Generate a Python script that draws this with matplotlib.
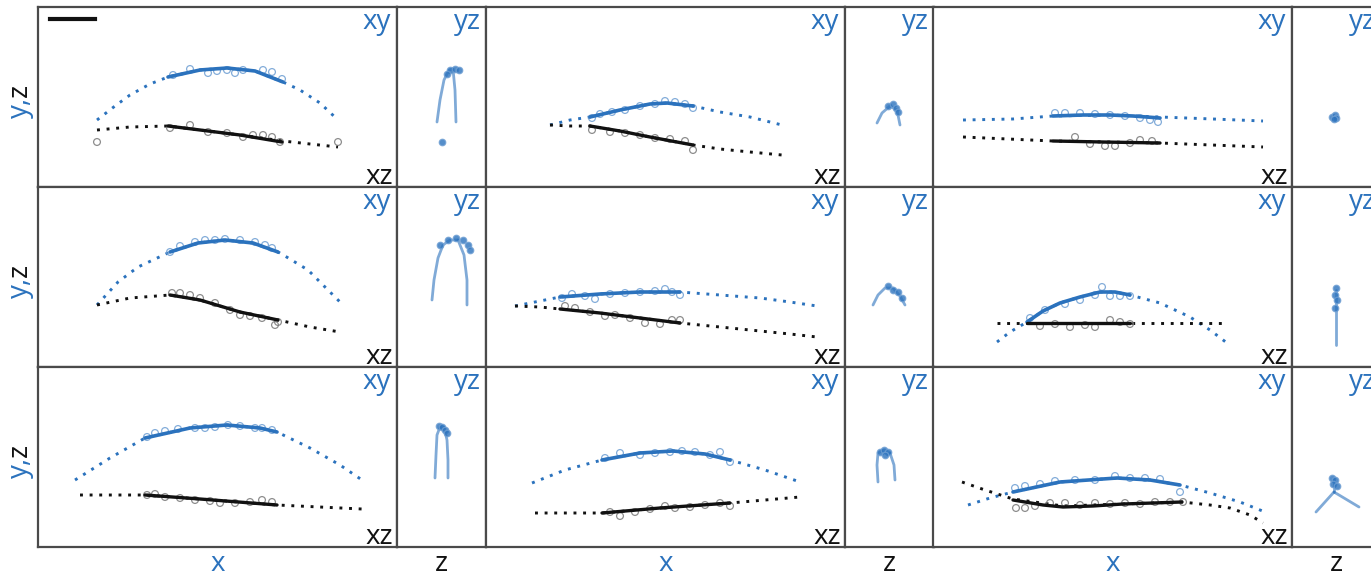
import matplotlib.pyplot as plt

# canvas in pixels
W, H = 1371, 575
BLUE = '#2b72bd'
BLUE_LIGHT = '#6f9fd3'
BLACK = '#111111'
GREY = '#7a7a7a'

# panels A..I, read row by row; values in panel pixel units (x right, y up)
xy_fit = [
    [(59, 67), (77, 81), (92, 92), (112, 103), (130, 110), (162, 117), (189, 119), (217, 116), (245, 105), (262, 97), (282, 84), (300, 67)],
    [(64, 62), (84, 67), (104, 70), (134, 77), (164, 83), (181, 84), (207, 81), (234, 75), (264, 70), (296, 62)],
    [(30, 67), (80, 68), (120, 71), (177, 72), (227, 70), (280, 68), (330, 66)],
    [(59, 62), (80, 85), (100, 100), (132, 115), (160, 124), (187, 127), (215, 124), (242, 114), (270, 97), (302, 65)],
    [(29, 61), (54, 66), (74, 70), (114, 73), (154, 75), (194, 75), (234, 72), (274, 69), (304, 65), (331, 61)],
    [(64, 25), (77, 35), (94, 45), (110, 56), (127, 64), (147, 70), (167, 75), (182, 75), (197, 72), (227, 64), (257, 50), (277, 37), (294, 24)],
    [(37, 67), (72, 89), (107, 109), (152, 119), (189, 122), (222, 119), (239, 115), (272, 99), (302, 82), (324, 67)],
    [(46, 64), (79, 77), (116, 87), (154, 94), (187, 96), (219, 93), (244, 87), (279, 77), (314, 65)],
    [(35, 42), (57, 49), (80, 55), (127, 65), (184, 69), (217, 67), (247, 62), (277, 54), (307, 45), (332, 35)],
]
xy_seg = [
    [(130, 110), (162, 117), (189, 119), (217, 116), (245, 105)],
    [(104, 70), (134, 77), (164, 83), (181, 84), (207, 81)],
    [(120, 71), (150, 72), (177, 72), (200, 71), (227, 69)],
    [(132, 115), (160, 124), (187, 127), (215, 124), (240, 115)],
    [(74, 70), (114, 73), (154, 75), (194, 75)],
    [(94, 45), (110, 56), (127, 64), (147, 70), (167, 75), (182, 75), (197, 72)],
    [(107, 109), (152, 119), (189, 122), (222, 119), (239, 115)],
    [(116, 87), (154, 94), (187, 96), (219, 93), (244, 87)],
    [(80, 55), (127, 65), (184, 69), (217, 67), (247, 62)],
]
xy_obs = [
    [(135, 112), (152, 118), (170, 114), (179, 116), (189, 117), (197, 114), (205, 117), (225, 117), (234, 115), (244, 108)],
    [(106, 69), (114, 73), (126, 75), (139, 77), (154, 81), (169, 83), (179, 86), (189, 85), (199, 83), (207, 79)],
    [(122, 74), (132, 74), (147, 74), (162, 73), (177, 72), (192, 71), (207, 69), (217, 67), (225, 65)],
    [(132, 115), (142, 121), (157, 125), (167, 127), (177, 127), (187, 128), (202, 127), (217, 125), (227, 122), (234, 119)],
    [(76, 69), (86, 73), (99, 71), (109, 68), (124, 73), (139, 74), (154, 75), (169, 76), (179, 78), (186, 75), (194, 72)],
    [(97, 49), (112, 57), (132, 63), (147, 67), (162, 72), (169, 80), (177, 71), (187, 71), (197, 71)],
    [(109, 110), (117, 114), (127, 116), (140, 118), (157, 119), (167, 119), (177, 120), (190, 122), (202, 121), (217, 119), (224, 119), (234, 117)],
    [(119, 89), (134, 94), (154, 92), (169, 94), (184, 95), (196, 96), (209, 95), (224, 92), (234, 95), (244, 85)],
    [(82, 59), (92, 61), (107, 63), (122, 66), (142, 67), (162, 67), (182, 71), (197, 69), (212, 69), (227, 68), (247, 55)],
]
xz_fit = [
    [(59, 57), (92, 60), (130, 61), (162, 57), (202, 52), (245, 46), (272, 43), (300, 40)],
    [(64, 62), (84, 61), (104, 61), (134, 56), (164, 50), (207, 42), (234, 38), (264, 35), (296, 32)],
    [(30, 50), (120, 46), (227, 44), (330, 40)],
    [(59, 62), (92, 69), (132, 72), (162, 67), (202, 55), (240, 47), (272, 40), (302, 35)],
    [(29, 61), (54, 60), (74, 58), (114, 54), (154, 49), (194, 44), (234, 40), (274, 36), (304, 33), (331, 30)],
    [(64, 44), (130, 44), (200, 44), (294, 44)],
    [(42, 52), (107, 52), (162, 48), (239, 42), (324, 38)],
    [(49, 34), (116, 34), (174, 39), (244, 44), (314, 50)],
    [(29, 65), (52, 57), (80, 48), (130, 41), (190, 43), (249, 45), (277, 42), (297, 39), (317, 32), (330, 24)],
]
xz_seg = [
    [(130, 61), (162, 57), (202, 52), (244, 45)],
    [(104, 61), (134, 56), (164, 50), (207, 42)],
    [(120, 46), (170, 45), (227, 44)],
    [(132, 72), (162, 67), (202, 55), (240, 47)],
    [(74, 58), (114, 54), (154, 49), (194, 44)],
    [(94, 44), (197, 44)],
    [(107, 52), (162, 48), (239, 42)],
    [(116, 34), (174, 39), (244, 44)],
    [(80, 47), (110, 42), (130, 40), (160, 41), (190, 43), (220, 44), (249, 45)],
]
xz_obs = [
    [(59, 45), (132, 59), (152, 62), (170, 55), (189, 54), (205, 50), (215, 52), (225, 52), (234, 50), (242, 45), (300, 45)],
    [(106, 57), (124, 55), (139, 54), (154, 52), (169, 49), (184, 48), (199, 46), (207, 37)],
    [(142, 50), (157, 43), (172, 41), (182, 41), (197, 44), (207, 47), (219, 46)],
    [(134, 74), (142, 74), (152, 72), (162, 69), (177, 64), (192, 57), (202, 52), (212, 51), (224, 49), (237, 42), (240, 45)],
    [(79, 61), (89, 59), (104, 55), (119, 51), (129, 52), (144, 49), (159, 44), (174, 43), (186, 47), (194, 47)],
    [(107, 41), (122, 43), (137, 40), (152, 42), (162, 40), (177, 47), (187, 45), (197, 43)],
    [(109, 52), (117, 53), (127, 50), (142, 49), (157, 47), (172, 46), (182, 44), (197, 44), (212, 45), (224, 47), (234, 45)],
    [(124, 35), (134, 31), (149, 35), (164, 38), (179, 41), (189, 39), (204, 40), (219, 42), (234, 44), (244, 41)],
    [(83, 39), (92, 39), (102, 41), (117, 44), (132, 44), (147, 42), (162, 44), (177, 43), (192, 44), (207, 43), (222, 45), (237, 45), (250, 45)],
]
# yz projections: one or more traces per panel plus the observed points
yz_traces = [
    [[(40, 65), (43, 87), (47, 107), (52, 117), (56, 118)], [(56, 118), (58, 97), (59, 65)]],
    [[(32, 64), (37, 74), (45, 81), (52, 77), (55, 62)]],
    [[(41, 70), (43, 70)]],
    [[(35, 67), (37, 87), (41, 109), (46, 122), (53, 127), (61, 127)], [(61, 127), (67, 112), (70, 87), (70, 62)]],
    [[(28, 62), (33, 72), (40, 79), (48, 79), (55, 71), (60, 62)]],
    [[(44, 77), (44, 22)]],
    [[(38, 69), (39, 92), (40, 112), (43, 120), (47, 120)], [(47, 120), (50, 107), (51, 87), (51, 69)]],
    [[(33, 65), (32, 82), (33, 94), (39, 97), (45, 94)], [(45, 94), (49, 82), (50, 67)]],
    [[(42, 69), (42, 55)], [(42, 55), (24, 35)], [(42, 55), (67, 40)]],
]
yz_obs = [
    [(53, 117), (58, 118), (62, 117), (50, 113), (45, 45)],
    [(43, 81), (48, 83), (51, 79), (53, 75)],
    [(40, 70), (43, 72), (44, 69), (42, 68)],
    [(43, 122), (51, 127), (59, 129), (66, 127), (71, 122), (73, 117)],
    [(43, 81), (48, 77), (53, 75), (57, 69)],
    [(44, 79), (43, 72), (45, 67), (43, 59)],
    [(42, 121), (45, 120), (48, 117), (50, 114)],
    [(35, 95), (39, 97), (43, 95), (40, 92)],
    [(40, 69), (43, 67), (41, 63), (45, 61)],
]
scale_bar = [(12, 168), (57, 168)]

# layout (pixels)
col_left = [38, 486, 933]
row_top = [7, 187, 367]
wide_w, narrow_w, row_h = 359, 89, 180

plt.rcParams['font.family'] = ['Open Sans', 'DejaVu Sans']
fig = plt.figure(figsize=(W / 100, H / 100), dpi=100)


def add_panel(left, top, width):
    ax = fig.add_axes([left / W, 1 - (top + row_h) / H, width / W, row_h / H])
    ax.set_xlim(0, width)
    ax.set_ylim(0, row_h)
    ax.set_xticks([])
    ax.set_yticks([])
    for s in ax.spines.values():
        s.set_color('#4a4a4a')
        s.set_linewidth(1.6)
    return ax


def xs(pts):
    return [p[0] for p in pts]


def ys(pts):
    return [p[1] for p in pts]


dot = (0, (1, 2.3))
fs = 20

for i in range(9):
    r, c = divmod(i, 3)
    top = row_top[r]
    left = col_left[c]
    ax = add_panel(left, top, wide_w)
    ax.plot(xs(xy_fit[i]), ys(xy_fit[i]), ls=dot, lw=2.1, color=BLUE)
    ax.plot(xs(xz_fit[i]), ys(xz_fit[i]), ls=dot, lw=2.1, color=BLACK)
    ax.scatter(xs(xy_obs[i]), ys(xy_obs[i]), s=24, facecolors='none',
               edgecolors=BLUE_LIGHT, linewidths=0.9, alpha=0.85, zorder=3)
    ax.scatter(xs(xz_obs[i]), ys(xz_obs[i]), s=24, facecolors='none',
               edgecolors=GREY, linewidths=0.9, alpha=0.85, zorder=3)
    ax.plot(xs(xy_seg[i]), ys(xy_seg[i]), lw=2.6, color=BLUE, zorder=4,
            solid_capstyle='round', solid_joinstyle='round')
    ax.plot(xs(xz_seg[i]), ys(xz_seg[i]), lw=2.4, color=BLACK, zorder=4,
            solid_capstyle='round', solid_joinstyle='round')
    if i == 0:
        ax.plot(xs(scale_bar), ys(scale_bar), lw=3, color=BLACK)

    nleft = left + wide_w
    axn = add_panel(nleft, top, narrow_w)
    for tr in yz_traces[i]:
        axn.plot(xs(tr), ys(tr), lw=2.0, color=BLUE, alpha=0.6,
                 solid_capstyle='round')
    axn.scatter(xs(yz_obs[i]), ys(yz_obs[i]), s=22, color=BLUE,
                edgecolors=BLUE_LIGHT, linewidths=0.9, alpha=0.8, zorder=3)

    # panel labels
    fig.text((left + wide_w - 6) / W, 1 - (top + 22) / H, 'xy', color=BLUE,
             fontsize=fs, ha='right', va='baseline')
    fig.text((left + wide_w - 4) / W, 1 - (top + row_h - 3) / H, 'xz',
             color=BLACK, fontsize=fs, ha='right', va='baseline')
    fig.text((nleft + narrow_w - 5) / W, 1 - (top + 22) / H, 'yz', color=BLUE,
             fontsize=fs, ha='right', va='baseline')

# row labels "y,z"
for top in row_top:
    yc = 1 - (top + row_h / 2) / H
    fig.text(27 / W, yc, 'y,', color=BLUE, fontsize=fs, rotation=90,
             rotation_mode='anchor', ha='right', va='baseline')
    fig.text(27 / W, yc, 'z', color=BLACK, fontsize=fs, rotation=90,
             rotation_mode='anchor', ha='left', va='baseline')

# column labels
for left in col_left:
    fig.text((left + wide_w / 2) / W, 1 - 571 / H, 'x', color=BLUE,
             fontsize=fs, ha='center', va='baseline')
    fig.text((left + wide_w + narrow_w / 2) / W, 1 - 571 / H, 'z',
             color=BLACK, fontsize=fs, ha='center', va='baseline')

fig.savefig('out.png', dpi=100)
